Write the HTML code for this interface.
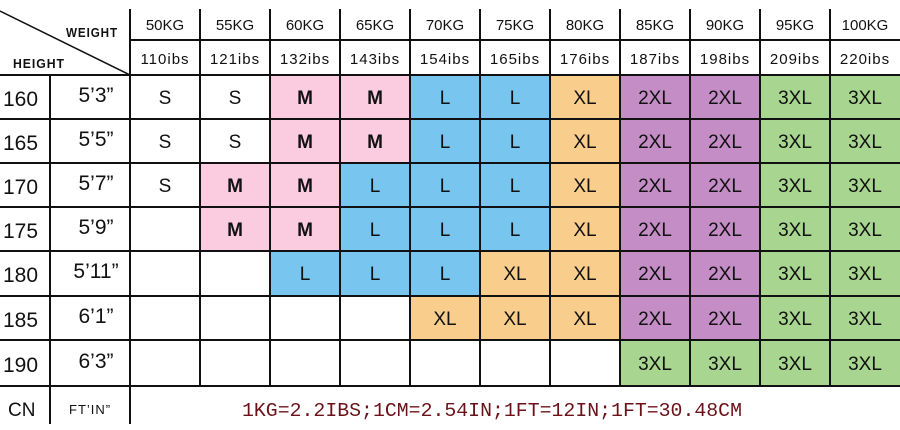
<!DOCTYPE html>
<html><head><meta charset="utf-8"><style>
html,body{margin:0;padding:0;background:#fff;width:900px;height:430px;overflow:hidden}
svg text{font-family:"Liberation Sans Narrow","Liberation Sans",sans-serif;fill:#111}
.h{font-size:15px;text-anchor:middle}
.s{font-size:19px;text-anchor:middle}
.b{font-weight:bold}
.l{font-family:"Liberation Sans",sans-serif !important;font-size:21px}
</style></head><body>
<svg width="900" height="430" xmlns="http://www.w3.org/2000/svg">
<g>
<rect x="270" y="75" width="140" height="88" fill="#fbcbe0"/>
<rect x="200" y="163" width="140" height="88" fill="#fbcbe0"/>
<rect x="410" y="75" width="140" height="88" fill="#78c5f0"/>
<rect x="340" y="163" width="210" height="88" fill="#78c5f0"/>
<rect x="270" y="251" width="210" height="45" fill="#78c5f0"/>
<rect x="550" y="75" width="70" height="221" fill="#f9cd8c"/>
<rect x="480" y="251" width="70" height="45" fill="#f9cd8c"/>
<rect x="410" y="296" width="210" height="44" fill="#f9cd8c"/>
<rect x="620" y="75" width="140" height="265" fill="#c48dc6"/>
<rect x="760" y="75" width="140" height="311" fill="#a8d690"/>
<rect x="620" y="340" width="140" height="46" fill="#a8d690"/>
</g>
<g>
<text class="h" x="165" y="30">50KG</text><text class="h" x="235" y="30">55KG</text><text class="h" x="305" y="30">60KG</text><text class="h" x="375" y="30">65KG</text><text class="h" x="445" y="30">70KG</text><text class="h" x="515" y="30">75KG</text><text class="h" x="585" y="30">80KG</text><text class="h" x="655" y="30">85KG</text><text class="h" x="725" y="30">90KG</text><text class="h" x="795" y="30">95KG</text><text class="h" x="865" y="30">100KG</text>
<text class="h" x="165" y="64" letter-spacing="1">110ibs</text><text class="h" x="235" y="64" letter-spacing="1">121ibs</text><text class="h" x="305" y="64" letter-spacing="1">132ibs</text><text class="h" x="375" y="64" letter-spacing="1">143ibs</text><text class="h" x="445" y="64" letter-spacing="1">154ibs</text><text class="h" x="515" y="64" letter-spacing="1">165ibs</text><text class="h" x="585" y="64" letter-spacing="1">176ibs</text><text class="h" x="655" y="64" letter-spacing="1">187ibs</text><text class="h" x="725" y="64" letter-spacing="1">198ibs</text><text class="h" x="795" y="64" letter-spacing="1">209ibs</text><text class="h" x="865" y="64" letter-spacing="1">220ibs</text>
<text x="66" y="37" font-size="13" font-weight="bold" letter-spacing="1" textLength="52" lengthAdjust="spacingAndGlyphs">WEIGHT</text>
<text x="13" y="68" font-size="13" font-weight="bold" letter-spacing="1" textLength="52" lengthAdjust="spacingAndGlyphs">HEIGHT</text>

<text class="l" x="3" y="106">160</text><text class="l" x="3" y="150">165</text><text class="l" x="3" y="194">170</text><text class="l" x="3" y="238">175</text><text class="l" x="3" y="282">180</text><text class="l" x="3" y="327">185</text><text class="l" x="3" y="372">190</text>
<text class="s l" x="96" y="102" style="text-anchor:middle">5’3”</text>
<text class="s l" x="96" y="146" style="text-anchor:middle">5’5”</text>
<text class="s l" x="96" y="190" style="text-anchor:middle">5’7”</text>
<text class="s l" x="96" y="234" style="text-anchor:middle">5’9”</text>
<text class="s l" x="96" y="278" style="text-anchor:middle">5’11”</text>
<text class="s l" x="96" y="323" style="text-anchor:middle">6’1”</text>
<text class="s l" x="96" y="368" style="text-anchor:middle">6’3”</text>

<text class="s" x="165" y="104">S</text><text class="s" x="235" y="104">S</text><text class="s b" x="305" y="104">M</text><text class="s b" x="375" y="104">M</text><text class="s" x="445" y="104">L</text><text class="s" x="515" y="104">L</text><text class="s" x="585" y="104">XL</text><text class="s" x="655" y="104">2XL</text><text class="s" x="725" y="104">2XL</text><text class="s" x="795" y="104">3XL</text><text class="s" x="865" y="104">3XL</text>
<text class="s" x="165" y="148">S</text><text class="s" x="235" y="148">S</text><text class="s b" x="305" y="148">M</text><text class="s b" x="375" y="148">M</text><text class="s" x="445" y="148">L</text><text class="s" x="515" y="148">L</text><text class="s" x="585" y="148">XL</text><text class="s" x="655" y="148">2XL</text><text class="s" x="725" y="148">2XL</text><text class="s" x="795" y="148">3XL</text><text class="s" x="865" y="148">3XL</text>
<text class="s" x="165" y="192">S</text><text class="s b" x="235" y="192">M</text><text class="s b" x="305" y="192">M</text><text class="s" x="375" y="192">L</text><text class="s" x="445" y="192">L</text><text class="s" x="515" y="192">L</text><text class="s" x="585" y="192">XL</text><text class="s" x="655" y="192">2XL</text><text class="s" x="725" y="192">2XL</text><text class="s" x="795" y="192">3XL</text><text class="s" x="865" y="192">3XL</text>
<text class="s b" x="235" y="236">M</text><text class="s b" x="305" y="236">M</text><text class="s" x="375" y="236">L</text><text class="s" x="445" y="236">L</text><text class="s" x="515" y="236">L</text><text class="s" x="585" y="236">XL</text><text class="s" x="655" y="236">2XL</text><text class="s" x="725" y="236">2XL</text><text class="s" x="795" y="236">3XL</text><text class="s" x="865" y="236">3XL</text>
<text class="s" x="305" y="280">L</text><text class="s" x="375" y="280">L</text><text class="s" x="445" y="280">L</text><text class="s" x="515" y="280">XL</text><text class="s" x="585" y="280">XL</text><text class="s" x="655" y="280">2XL</text><text class="s" x="725" y="280">2XL</text><text class="s" x="795" y="280">3XL</text><text class="s" x="865" y="280">3XL</text>
<text class="s" x="445" y="325">XL</text><text class="s" x="515" y="325">XL</text><text class="s" x="585" y="325">XL</text><text class="s" x="655" y="325">2XL</text><text class="s" x="725" y="325">2XL</text><text class="s" x="795" y="325">3XL</text><text class="s" x="865" y="325">3XL</text>
<text class="s" x="655" y="370">3XL</text><text class="s" x="725" y="370">3XL</text><text class="s" x="795" y="370">3XL</text><text class="s" x="865" y="370">3XL</text>

<text x="8" y="416" font-size="19">CN</text>
<text x="69" y="414" font-size="13" letter-spacing="1">FT’IN”</text>
<text x="492" y="416" font-size="19" text-anchor="middle" style="fill:#6a1218;font-family:'Liberation Mono',monospace" textLength="500" lengthAdjust="spacingAndGlyphs">1KG=2.2IBS;1CM=2.54IN;1FT=12IN;1FT=30.48CM</text>
</g>
<g stroke="#111" stroke-width="2">
<line x1="0" y1="11" x2="130" y2="75" stroke-width="1.5"/>
<line x1="130" y1="40" x2="900" y2="40"/>
<line x1="0" y1="75" x2="900" y2="75"/><line x1="0" y1="119" x2="900" y2="119"/><line x1="0" y1="163" x2="900" y2="163"/><line x1="0" y1="207" x2="900" y2="207"/><line x1="0" y1="251" x2="900" y2="251"/><line x1="0" y1="296" x2="900" y2="296"/><line x1="0" y1="340" x2="900" y2="340"/><line x1="0" y1="386" x2="900" y2="386"/>
<line x1="50" y1="75" x2="50" y2="424"/>
<line x1="130" y1="9" x2="130" y2="424"/>
<line x1="200" y1="9" x2="200" y2="386"/><line x1="270" y1="9" x2="270" y2="386"/><line x1="340" y1="9" x2="340" y2="386"/><line x1="410" y1="9" x2="410" y2="386"/><line x1="480" y1="9" x2="480" y2="386"/><line x1="550" y1="9" x2="550" y2="386"/><line x1="620" y1="9" x2="620" y2="386"/><line x1="690" y1="9" x2="690" y2="386"/><line x1="760" y1="9" x2="760" y2="386"/><line x1="830" y1="9" x2="830" y2="386"/>
</g>
</svg>
</body></html>
